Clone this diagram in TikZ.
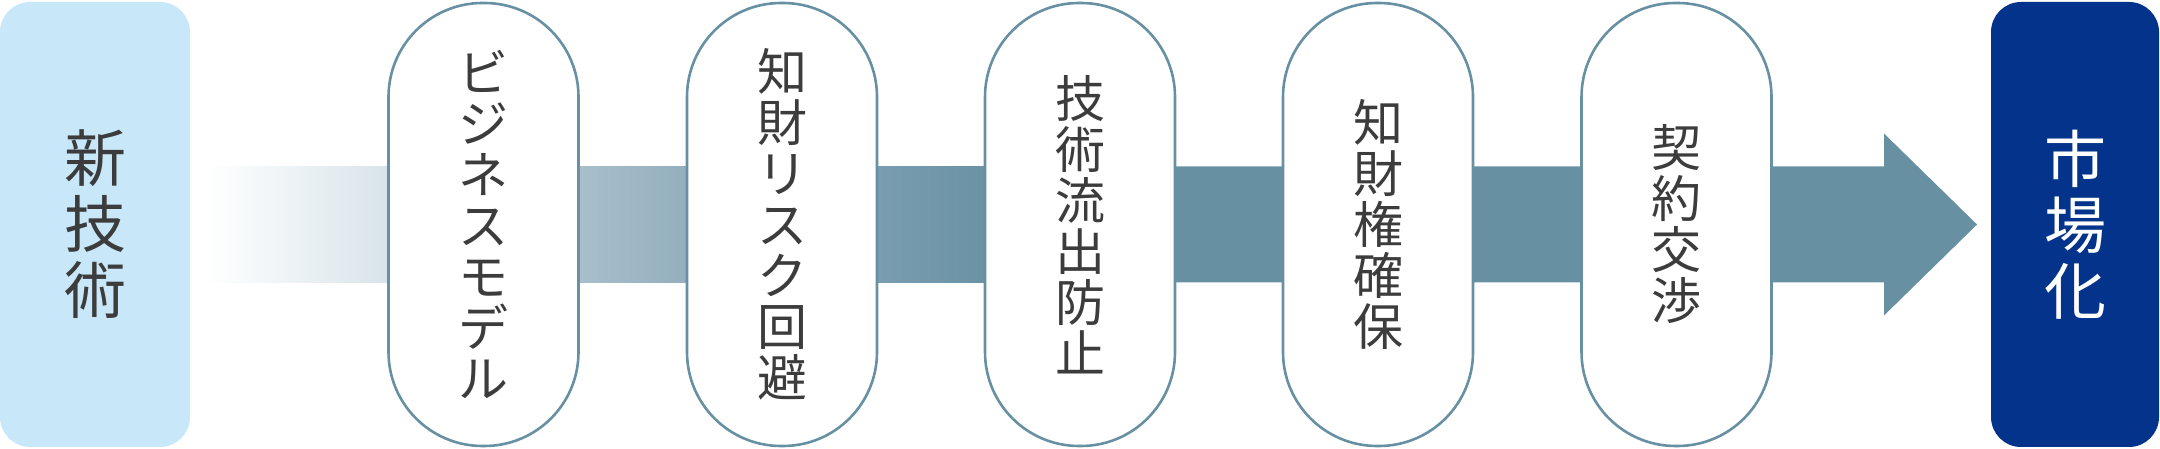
\documentclass[tikz,border=0pt]{standalone}
\usepackage{fontspec}
\newfontfamily\jp{Noto Sans CJK JP}
\definecolor{steel}{RGB}{104,144,163}
\definecolor{sa}{RGB}{216,228,234}
\definecolor{sb}{RGB}{168,191,203}
\definecolor{sc}{RGB}{147,175,189}
\definecolor{sd}{RGB}{122,157,176}
\definecolor{lightbox}{RGB}{200,232,250}
\definecolor{darkbox}{RGB}{3,51,138}
\definecolor{txt}{RGB}{60,60,60}
\pgfdeclarehorizontalshading{shaftfade}{100bp}{color(0bp)=(white); color(25bp)=(white); color(36.3bp)=(sa); color(48.5bp)=(sb); color(55.2bp)=(sc); color(67.3bp)=(sd); color(75bp)=(steel); color(100bp)=(steel)}
\begin{document}
\begin{tikzpicture}[x=1pt,y=1pt,
  pill/.style={draw=steel, line width=2.6pt, fill=white, rounded corners=94pt,
    minimum width=190pt, minimum height=443pt, inner sep=0pt, align=center,
    text=txt, font=\jp\fontsize{50}{51}\selectfont},
  endbox/.style={rounded corners=30pt, minimum height=445pt, inner sep=0pt,
    align=center, font=\jp\fontsize{62}{66}\selectfont}]
\useasboundingbox (0,0) rectangle (2160,449);
% shaft coordinates
\coordinate (s0) at (207,166.5);
\coordinate (s1) at (1000,282.5);
\coordinate (hb) at (1884,166.5);
\coordinate (ht) at (1884,133.5);
\coordinate (tip) at (1977,224.5);
\coordinate (hu) at (1884,315.5);
\coordinate (hc) at (1884,282.5);
\shade[shading=shaftfade] (s0) rectangle (s1);
\fill[steel] (999,166.5) -- (hb) -- (ht) -- (tip) -- (hu) -- (hc) -- (999,282.5) -- cycle;
% end boxes
\node[endbox, fill=lightbox, text=txt, minimum width=190pt] (start) at (95,224.5) {新\\技\\術};
\node[endbox, fill=darkbox, text=white, minimum width=168pt] (goal) at (2075,224.5) {市\\場\\化};
% pills
\node[pill] (p1) at (483.5,224.5) {ビ\\ジ\\ネ\\ス\\モ\\デ\\ル};
\node[pill] (p2) at (782,224.5) {知\\財\\リ\\ス\\ク\\回\\避};
\node[pill] (p3) at (1080,224.5) {技\\術\\流\\出\\防\\止};
\node[pill] (p4) at (1378,224.5) {知\\財\\権\\確\\保};
\node[pill] (p5) at (1676.5,224.5) {契\\約\\交\\渉};
\end{tikzpicture}
\end{document}
